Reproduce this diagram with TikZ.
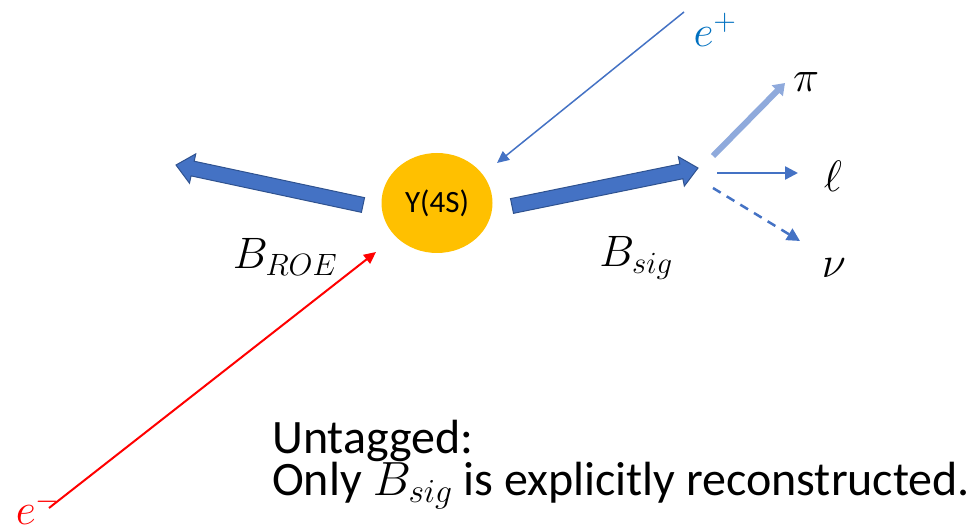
\RequirePackage{fix-cm}
\documentclass[tikz,border=0pt]{standalone}
\usepackage{fontspec}
\setmainfont{Carlito}
\usetikzlibrary{shapes.geometric,arrows.meta,calc}
\definecolor{cblue}{HTML}{4472C4}
\definecolor{cblueb}{HTML}{2F528F}
\definecolor{clight}{HTML}{8FAADC}
\definecolor{cplus}{HTML}{0070C0}
\definecolor{corange}{HTML}{FFC000}
\definecolor{cred}{HTML}{FF0000}
\newcommand\BigArr[2]{%
  \filldraw[bigarr]
    ($(#1)!7.5pt!90:(#2)$) --
    ($($(#2)!17pt!(#1)$)!7.5pt!-90:(#1)$) --
    ($($(#2)!17pt!(#1)$)!15pt!-90:(#1)$) --
    (#2) --
    ($($(#2)!17pt!(#1)$)!15pt!90:(#1)$) --
    ($($(#2)!17pt!(#1)$)!7.5pt!90:(#1)$) --
    ($(#1)!7.5pt!-90:(#2)$) -- cycle;}
\tikzset{
  bigarr/.style={fill=cblue, draw=cblueb, line width=1pt, line join=miter},
  mlabel/.style={inner sep=0pt, font=\fontsize{44}{53}\selectfont},
  bodytext/.style={inner sep=0pt, align=left, font=\fontsize{48}{42}\selectfont},
  thinarr/.style={line width=1.5pt, -{Triangle[length=12pt,width=11pt]}},
}
\begin{document}
\begin{tikzpicture}[x=1pt,y=-1pt]
\useasboundingbox (0,0) rectangle (972,529);
% centre
\node[ellipse, fill=corange, minimum width=111pt, minimum height=100pt, inner sep=0pt,
      font=\fontsize{31}{37}\selectfont] (ups) at (437,203) {Υ(4S)};
% big arrows
\coordinate (roeTail) at (363,205);
\coordinate (roeTip) at (176,165);
\coordinate (sigTail) at (512,206);
\coordinate (sigTip) at (698,168);
\BigArr{roeTail}{roeTip}
\BigArr{sigTail}{sigTip}
% beams
\coordinate (epStart) at (684,12);
\coordinate (epEnd) at (497,163);
\draw[thinarr, cblue] (epStart) -- (epEnd);
\coordinate (emStart) at (49,508);
\coordinate (emEnd) at (376,252);
\draw[thinarr, cred, line width=2pt] (emStart) -- (emEnd);
% decay products
\coordinate (piStart) at (713,156);
\coordinate (piEnd) at (785,83);
\draw[clight, line width=6pt, -{Triangle[length=11pt,width=15pt]}] (piStart) -- (piEnd);
\coordinate (lStart) at (717,173);
\coordinate (lEnd) at (798,173);
\draw[cblue, line width=2.5pt, -{Triangle[length=13pt,width=13pt]}] (lStart) -- (lEnd);
\coordinate (nuStart) at (713,188);
\coordinate (nuEnd) at (800,241);
\draw[cblue, line width=2.5pt, dash pattern=on 9pt off 7pt, -{Triangle[length=13pt,width=13pt]}] (nuStart) -- (nuEnd);
% labels
\node[mlabel, text=cplus] (ep) at (715,30) {$e^{+}$};
\node[mlabel, text=cred] (em) at (38,508) {$e^{-}$};
\node[mlabel] (pi) at (806,82) {$\pi$};
\node[mlabel] (ell) at (833,176) {$\ell$};
\node[mlabel] (nu) at (834,268) {$\nu$};
\node[mlabel] (broe) at (285,257) {$B_{ROE}$};
\node[mlabel] (bsig) at (636,258) {$B_{sig}$};
\node[bodytext, anchor=base west] (txt) at (272,495) {Untagged:\\Only $B_{sig}$ is explicitly reconstructed.};
\end{tikzpicture}
\end{document}
